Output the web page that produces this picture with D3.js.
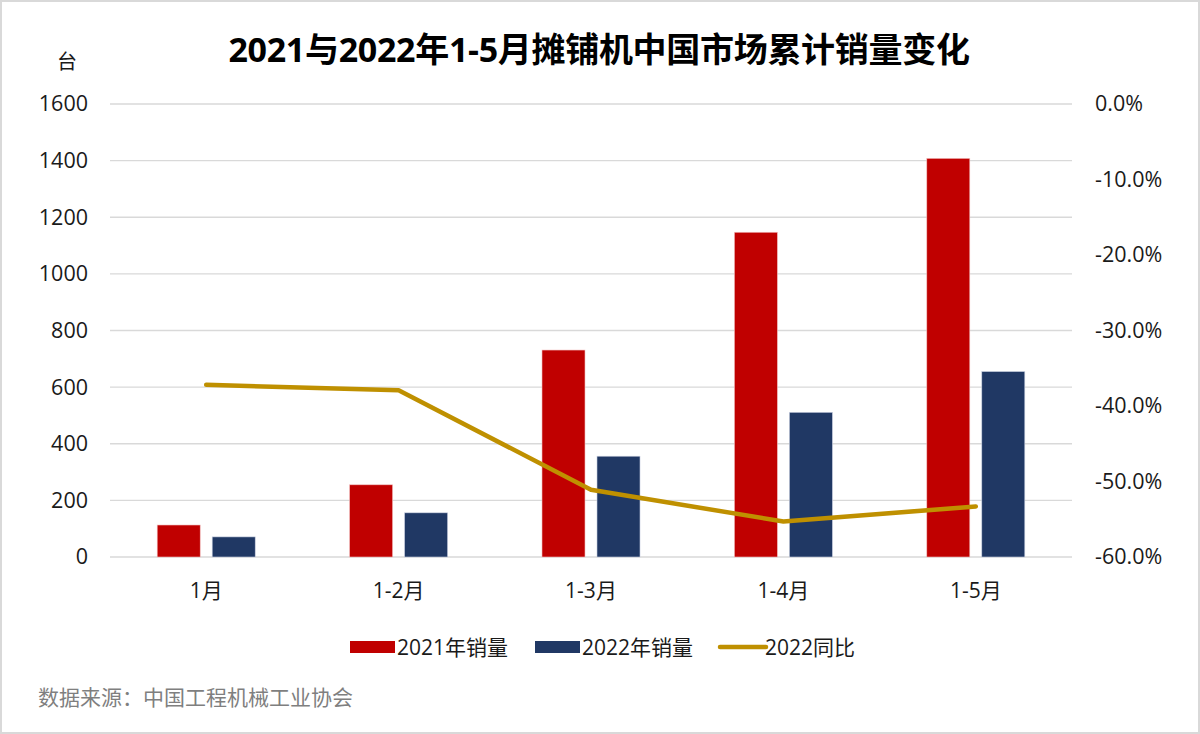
<!DOCTYPE html>
<html><head><meta charset="utf-8">
<script src="https://cdn.jsdelivr.net/npm/d3@7/dist/d3.min.js"></script>
<style>
html,body{margin:0;padding:0;background:#fff;}
svg{display:block;}
text{font-family:"Open Sans","Noto Sans CJK SC",sans-serif;}
</style></head>
<body>
<script>
const categories = ["1月","1-2月","1-3月","1-4月","1-5月"];
const sales2021 = [113, 255, 731, 1147, 1408];
const sales2022 = [71, 156, 356, 511, 655];
const yoy2022 = [-37.2, -37.9, -51.1, -55.3, -53.3];
const leftTicks = [0,200,400,600,800,1000,1200,1400,1600];
const rightTicks = [0,-10,-20,-30,-40,-50,-60];
const seriesNames = ["2021年销量","2022年销量","2022同比"];
const colors = {"2021":"#C00000","2022":"#203864","line":"#BF9000"};

(function(){
const W=1200,H=734;
const svg=d3.select("body").append("svg").attr("width",W).attr("height",H);
svg.append("rect").attr("x",1).attr("y",1).attr("width",W-2).attr("height",H-2)
  .attr("fill","#fff").attr("stroke","#d9d9d9").attr("stroke-width",2);

const pL=110,pR=1072,pT=104,pB=557;
const x0=d3.scaleBand().domain(categories).range([pL,pR]).paddingInner(0).paddingOuter(0);
const x1=d3.scaleBand().domain(["2021","2022"]).range([0,x0.bandwidth()]).paddingInner(0.218).paddingOuter(0.858);
const yL=d3.scaleLinear().domain([0,1600]).range([pB,pT]);
const yR=d3.scaleLinear().domain([-60,0]).range([pB,pT]);

// gridlines
svg.append("g").selectAll("line").data(leftTicks).join("line")
  .attr("x1",pL).attr("x2",pR).attr("y1",d=>yL(d)).attr("y2",d=>yL(d))
  .attr("stroke","#d9d9d9").attr("stroke-width",1.3);

// left axis labels
const axL=d3.axisLeft(yL).tickValues(leftTicks).tickSize(0).tickPadding(0).tickFormat(d3.format("d"));
const gL=svg.append("g").attr("transform",`translate(88,0)`).call(axL);
gL.select(".domain").remove();
gL.selectAll("text").attr("font-size",21.5).attr("fill","#1a1a1a").attr("font-family",'"Open Sans",sans-serif');

// right axis labels
const axR=d3.axisRight(yR).tickValues(rightTicks).tickSize(0).tickPadding(0).tickFormat(d=>d3.format(".1f")(d).replace("−","-")+"%");
const gR=svg.append("g").attr("transform",`translate(1095,0)`).call(axR);
gR.select(".domain").remove();
gR.selectAll("text").attr("font-size",21.5).attr("fill","#1a1a1a").attr("font-family",'"Open Sans",sans-serif');

// bars
const data=categories.map((c,i)=>({c,v2021:sales2021[i],v2022:sales2022[i],yoy:yoy2022[i]}));
const gb=svg.append("g");
gb.selectAll(".b21").data(data).join("rect")
  .attr("x",d=>x0(d.c)+x1("2021")).attr("width",x1.bandwidth())
  .attr("y",d=>yL(d.v2021)).attr("height",d=>pB-yL(d.v2021))
  .attr("fill",colors["2021"]).attr("stroke","#f2c0c0").attr("stroke-width",0.6);
gb.selectAll(".b22").data(data).join("rect")
  .attr("x",d=>x0(d.c)+x1("2022")).attr("width",x1.bandwidth())
  .attr("y",d=>yL(d.v2022)).attr("height",d=>pB-yL(d.v2022))
  .attr("fill",colors["2022"]).attr("stroke","#c9d0e0").attr("stroke-width",0.6);

// line
const line=d3.line().x(d=>x0(d.c)+x0.bandwidth()/2).y(d=>yR(d.yoy));
svg.append("path").datum(data).attr("d",line).attr("fill","none")
  .attr("stroke",colors.line).attr("stroke-width",4.5).attr("stroke-linejoin","round").attr("stroke-linecap","round");

// x labels
svg.append("g").selectAll("text").data(categories).join("text")
  .attr("x",d=>x0(d)+x0.bandwidth()/2).attr("y",598).attr("text-anchor","middle")
  .attr("font-size",21).attr("fill","#1a1a1a").text(d=>d);

// title
svg.append("text").attr("x",599).attr("y",62).attr("text-anchor","middle")
  .attr("font-size",34).attr("font-weight","bold").attr("fill","#000")
  .attr("font-family",'"Noto Sans CJK SC",sans-serif').attr("letter-spacing",-0.3)
  .text("2021与2022年1-5月摊铺机中国市场累计销量变化");

// unit
svg.append("text").attr("x",67).attr("y",69).attr("text-anchor","middle")
  .attr("font-size",20).attr("fill","#1a1a1a").attr("font-family",'"Noto Sans CJK SC",sans-serif').text("台");

// legend
const lg=svg.append("g");
const items=[
  {name:seriesNames[0],x:350,type:"rect",color:colors["2021"]},
  {name:seriesNames[1],x:535,type:"rect",color:colors["2022"]},
  {name:seriesNames[2],x:718,type:"line",color:colors.line}];
items.forEach(it=>{
  if(it.type==="rect"){
    lg.append("rect").attr("x",it.x).attr("y",641).attr("width",45).attr("height",12).attr("fill",it.color);
  }else{
    lg.append("line").attr("x1",it.x+2).attr("x2",it.x+48).attr("y1",647).attr("y2",647)
      .attr("stroke",it.color).attr("stroke-width",4.5).attr("stroke-linecap","round");
  }
  lg.append("text").attr("x",it.x+47).attr("y",655).attr("font-size",21).attr("fill","#1a1a1a").text(it.name);
});

// source
svg.append("text").attr("x",38).attr("y",705).attr("font-size",21).attr("fill","#7f7f7f")
  .text("数据来源：中国工程机械工业协会");
})();
</script>
</body></html>
